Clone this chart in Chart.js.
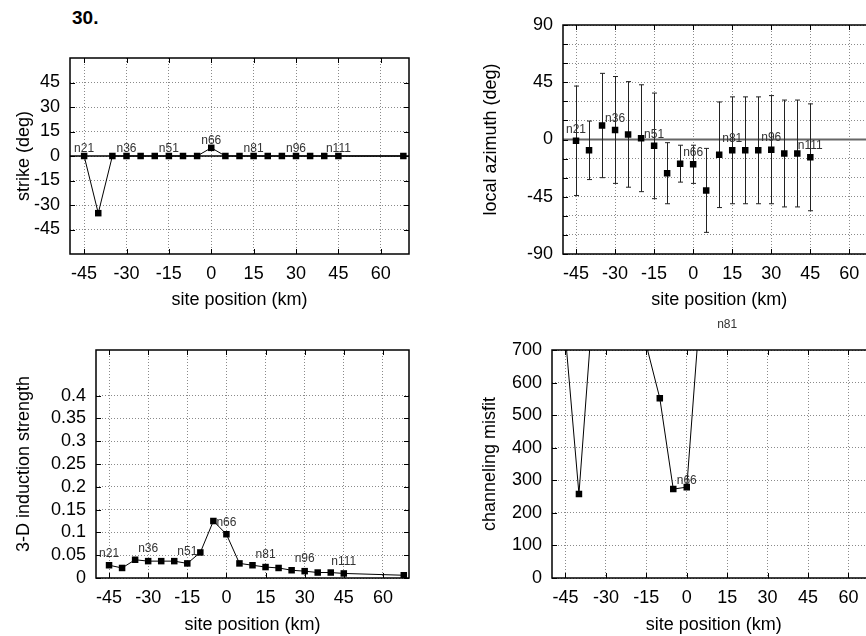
<!DOCTYPE html>
<html>
<head>
<meta charset="utf-8">
<script src="https://cdn.jsdelivr.net/npm/chart.js@4.4.1/dist/chart.umd.min.js"></script>
<style>
  html, body { margin: 0; padding: 0; background: #fff; overflow: hidden; }
  body { width: 866px; height: 636px; position: relative; }
  canvas { position: absolute; }
  #figTitle { position: absolute; left: 72px; top: 7px; line-height: 19px;
    font: bold 19px "Liberation Sans", Arial, sans-serif; }
</style>
</head>
<body>
<div id="figTitle">30.</div>
<canvas id="strikeChart"></canvas>
<canvas id="azimuthChart"></canvas>
<canvas id="inductionChart"></canvas>
<canvas id="misfitChart"></canvas>
<script>
// site positions along the profile (km)
const sitePos = [-45, -40, -35, -30, -25, -20, -15, -10, -5, 0, 5, 10, 15, 20, 25, 30, 35, 40, 45, 68];

// site labels and where they sit
const labelNames = ["n21", "n36", "n51", "n66", "n81", "n96", "n111"];
const labelPos = [-45, -30, -15, 0, 15, 30, 45];
const misfitLabelNames = ["n66", "n81"];

// series
const strike = [0, -35, 0, 0, 0, 0, 0, 0, 0, 5, 0, 0, 0, 0, 0, 0, 0, 0, 0, 0];
const azimuth = [-1, -8.5, 11, 7.5, 4, 1, -5, -26.5, -19, -19.5, -40, -12, -8.5, -8.5, -8.5, -8, -11, -11, -14, null];
const azimuthErr = [43, 23, 41, 42, 41.5, 42, 41.5, 24, 14.5, 15, 33, 41.5, 42, 42, 42, 42.5, 42, 42, 42, null];
const induction = [0.028, 0.022, 0.04, 0.037, 0.037, 0.037, 0.032, 0.056, 0.125, 0.096,
  0.032, 0.028, 0.024, 0.022, 0.017, 0.015, 0.012, 0.012, 0.01, 0.006];
// values above 700 that cannot be read are left empty
const misfit = [740, 258, 815, null, null, null, 715, 552, 273, 279, 830, null, 757,
  null, null, null, null, null, null, null];

// tick values
const xTicks = [-45, -30, -15, 0, 15, 30, 45, 60];
const strikeTicks = [-45, -30, -15, 0, 15, 30, 45];
const azimuthTicks = [-90, -75, -60, -45, -30, -15, 0, 15, 30, 45, 60, 75, 90];
const inductionTicks = [0, 0.05, 0.1, 0.15, 0.2, 0.25, 0.3, 0.35, 0.4];
const misfitTicks = [0, 100, 200, 300, 400, 500, 600, 700];

Chart.defaults.font.family = '"Liberation Sans", Arial, Helvetica, sans-serif';
Chart.defaults.font.size = 18;
Chart.defaults.color = "#000";
Chart.defaults.animation = false;

const GRID = "#8a8a8a";

// box round the plot, inward tick marks, optional zero line
function framePlugin(zero) {
  return {
    id: "frame",
    beforeDatasetsDraw(chart) {
      if (!zero) return;
      const { ctx, chartArea: a, scales: { y } } = chart;
      const py = y.getPixelForValue(0);
      ctx.save();
      ctx.strokeStyle = zero.color;
      ctx.lineWidth = zero.width;
      ctx.beginPath();
      ctx.moveTo(a.left, py);
      ctx.lineTo(a.right, py);
      ctx.stroke();
      ctx.restore();
    },
    afterDatasetsDraw(chart) {
      const { ctx, chartArea: a, scales: { x, y } } = chart;
      ctx.save();
      ctx.strokeStyle = "#000";
      ctx.lineWidth = 1;
      ctx.beginPath();
      x.ticks.forEach(t => {
        const px = Math.round(x.getPixelForValue(t.value)) + 0.5;
        ctx.moveTo(px, a.bottom); ctx.lineTo(px, a.bottom - 5);
        ctx.moveTo(px, a.top); ctx.lineTo(px, a.top + 5);
      });
      y.ticks.forEach(t => {
        const py = Math.round(y.getPixelForValue(t.value)) + 0.5;
        ctx.moveTo(a.left, py); ctx.lineTo(a.left + 5, py);
        ctx.moveTo(a.right, py); ctx.lineTo(a.right - 5, py);
      });
      ctx.stroke();
      ctx.lineWidth = 1.5;
      ctx.strokeRect(a.left, a.top, a.right - a.left, a.bottom - a.top);
      ctx.restore();
    }
  };
}

// small site names above their points
function labelPlugin(names, values, offset) {
  return {
    id: "siteLabels",
    afterDatasetsDraw(chart) {
      const { ctx, scales: { x, y } } = chart;
      ctx.save();
      ctx.font = '12px "Liberation Sans", Arial, sans-serif';
      ctx.fillStyle = "#333";
      ctx.textAlign = "center";
      ctx.textBaseline = "middle";
      names.forEach(name => {
        const pos = labelPos[labelNames.indexOf(name)];
        const v = values[sitePos.indexOf(pos)];
        if (v == null) return;
        ctx.fillText(name, x.getPixelForValue(pos), y.getPixelForValue(v) - offset);
      });
      ctx.restore();
    }
  };
}

function errorPlugin(values, errs) {
  return {
    id: "errorBars",
    beforeDatasetsDraw(chart) {
      const { ctx, scales: { x, y } } = chart;
      ctx.save();
      ctx.strokeStyle = "#222";
      ctx.lineWidth = 1;
      ctx.beginPath();
      values.forEach((v, i) => {
        if (v == null || errs[i] == null) return;
        const px = Math.round(x.getPixelForValue(sitePos[i])) + 0.5;
        const top = y.getPixelForValue(v + errs[i]);
        const bot = y.getPixelForValue(v - errs[i]);
        ctx.moveTo(px, top); ctx.lineTo(px, bot);
        ctx.moveTo(px - 2.5, top); ctx.lineTo(px + 2.5, top);
        ctx.moveTo(px - 2.5, bot); ctx.lineTo(px + 2.5, bot);
      });
      ctx.stroke();
      ctx.restore();
    }
  };
}

// box = canvas [x0, y0, x1, y1], area = plot area [left, top, right, bottom]
function makePanel(p) {
  const cv = document.getElementById(p.id);
  const [x0, y0, x1, y1] = p.box;
  const [L, T, R, B] = p.area;
  cv.width = x1 - x0; cv.height = y1 - y0;
  cv.style.left = x0 + "px"; cv.style.top = y0 + "px";
  cv.style.width = (x1 - x0) + "px"; cv.style.height = (y1 - y0) + "px";

  const plugins = [framePlugin(p.zero), labelPlugin(p.labels, p.values, p.labelOffset)];
  if (p.errors) plugins.push(errorPlugin(p.values, p.errors));

  return new Chart(cv, {
    type: "line",
    data: {
      datasets: [{
        data: sitePos.map((x, i) => ({ x: x, y: p.values[i] })),
        showLine: p.showLine,
        borderColor: "#000",
        borderWidth: 1,
        pointStyle: "rect",
        pointRadius: 4.6,
        pointBackgroundColor: "#000",
        pointBorderWidth: 0,
        spanGaps: false
      }]
    },
    options: {
      responsive: false,
      layout: { padding: { left: 0, top: T - y0, right: x1 - R, bottom: 0 } },
      plugins: { legend: { display: false }, tooltip: { enabled: false } },
      scales: {
        x: {
          type: "linear", min: -50, max: 70,
          afterBuildTicks: s => { s.ticks = xTicks.map(v => ({ value: v })); },
          afterFit: s => { s.height = y1 - B; },
          grid: { color: GRID, lineWidth: 1, drawTicks: false },
          border: { display: false, dash: [1, 2] },
          ticks: { padding: 9, maxRotation: 0, autoSkip: false, callback: v => String(v) },
          title: { display: true, text: "site position (km)", padding: { top: 0, bottom: p.xTitlePad } }
        },
        y: {
          type: "linear", min: p.yMin, max: p.yMax,
          afterBuildTicks: s => { s.ticks = p.yTicks.map(v => ({ value: v })); },
          afterFit: s => { s.width = L - x0; },
          grid: { color: GRID, lineWidth: 1, drawTicks: false },
          border: { display: false, dash: [1, 2] },
          ticks: { padding: 10, autoSkip: false, callback: p.yFormat || (v => String(v)) },
          title: { display: true, text: p.yTitle, padding: { top: p.yTitlePad, bottom: 0 } }
        }
      }
    },
    plugins: plugins
  });
}

makePanel({
  id: "strikeChart", box: [0, 30, 420, 322], area: [70, 58, 409, 254],
  values: strike, showLine: true, yMin: -60, yMax: 60, yTicks: strikeTicks,
  yTitle: "strike (deg)", yTitlePad: 13.7, xTitlePad: 11.2,
  labels: labelNames, labelOffset: 7, zero: { color: "#000", width: 1.5 }
});

makePanel({
  id: "azimuthChart", box: [470, 0, 880, 322], area: [563, 25, 876, 254],
  values: azimuth, errors: azimuthErr, showLine: false, yMin: -90, yMax: 90, yTicks: azimuthTicks,
  yFormat: v => (v % 45 === 0 ? String(v) : ""),
  yTitle: "local azimuth (deg)", yTitlePad: 10.2, xTitlePad: 11.2,
  labels: labelNames, labelOffset: 11.5, zero: { color: "#666", width: 2 }
});

makePanel({
  id: "inductionChart", box: [0, 322, 420, 636], area: [96, 350, 409, 578],
  values: induction, showLine: true, yMin: 0, yMax: 0.5, yTicks: inductionTicks,
  yTitle: "3-D induction strength", yTitlePad: 13.2, xTitlePad: 0.5,
  labels: labelNames, labelOffset: 12
});

makePanel({
  id: "misfitChart", box: [470, 310, 880, 636], area: [552, 350, 877, 578],
  values: misfit, showLine: true, yMin: 0, yMax: 700, yTicks: misfitTicks,
  yTitle: "channeling misfit", yTitlePad: 8.9, xTitlePad: 0.5,
  labels: misfitLabelNames, labelOffset: 6.5
});
</script>
</body>
</html>
